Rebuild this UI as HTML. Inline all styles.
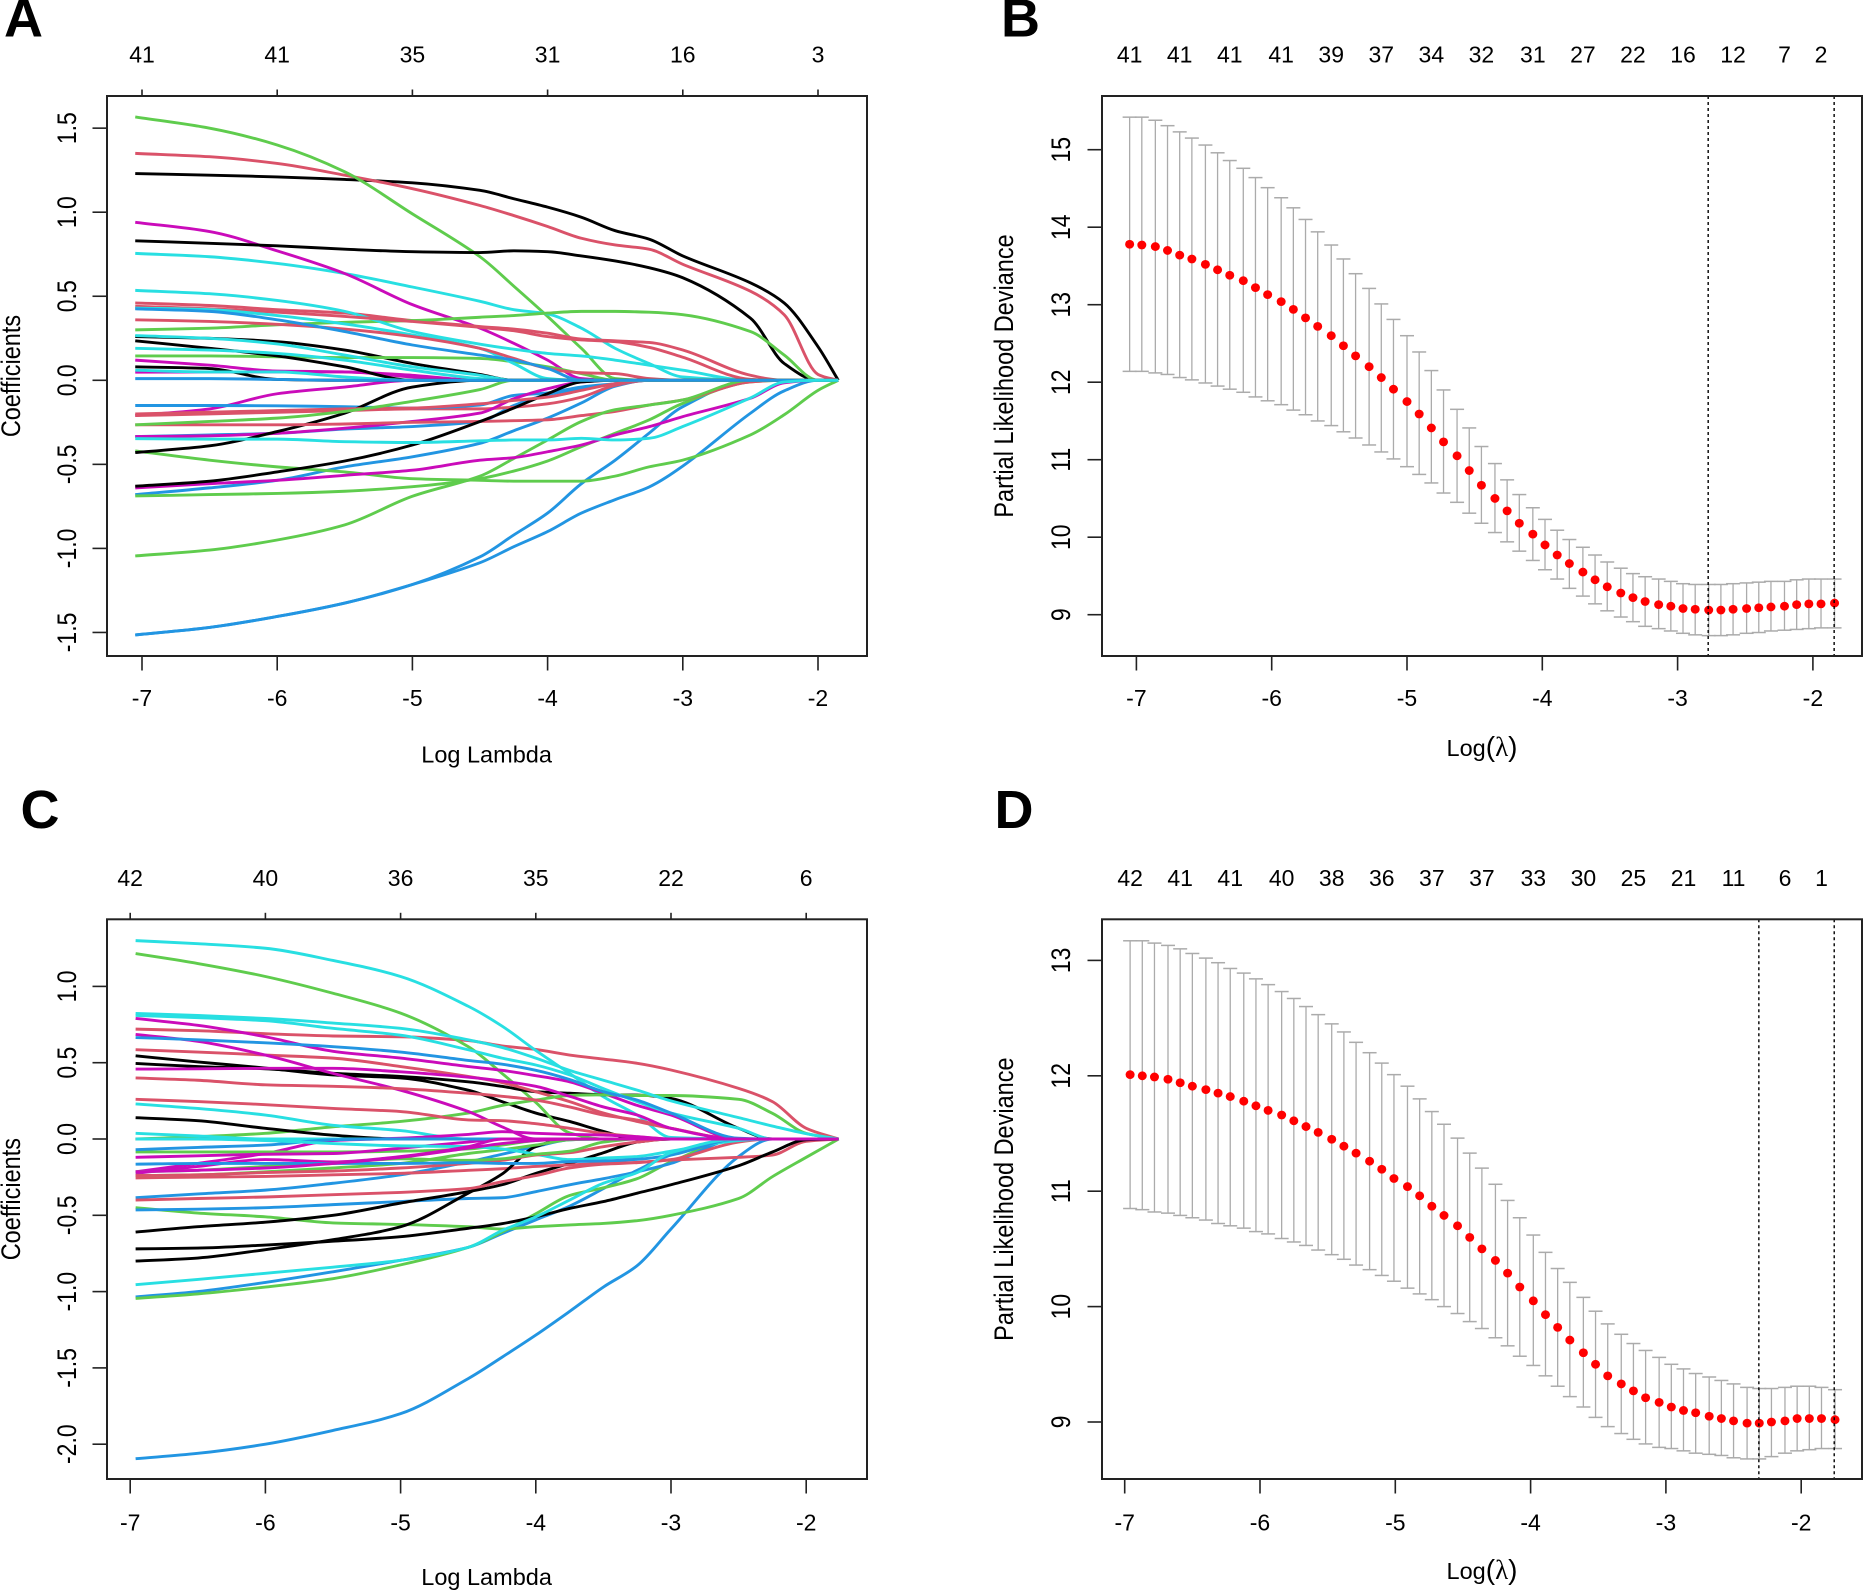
<!DOCTYPE html>
<html lang="en">
<head>
<meta charset="utf-8">
<title>LASSO coefficient paths and cross-validation deviance</title>
<style>
html,body{margin:0;padding:0;background:#fff;}
svg{display:block;}
text{font-family:"Liberation Sans",Arial,sans-serif;fill:#000;}
.panel-letter{font-weight:bold;font-size:54px;}
</style>
</head>
<body>
<svg id="figure" width="1863" height="1592" viewBox="0 0 1863 1592" xmlns="http://www.w3.org/2000/svg">
  <rect x="0" y="0" width="1863" height="1592" fill="#fff"/>
  <text class="panel-letter" x="4" y="36.5">A</text>
  <text class="panel-letter" x="1001" y="36.5">B</text>
  <text class="panel-letter" x="20.5" y="828">C</text>
  <text class="panel-letter" x="994.5" y="828">D</text>
</svg>
<script>
/* ---------- shared tick data ---------- */
const xTickValues = [-7, -6, -5, -4, -3, -2];
const yTickLabelsA = ['-1.5', '-1.0', '-0.5', '0.0', '0.5', '1.0', '1.5'];
const yTickLabelsC = ['-2.0', '-1.5', '-1.0', '-0.5', '0.0', '0.5', '1.0'];
const yTickLabelsB = ['9', '10', '11', '12', '13', '14', '15'];
const yTickLabelsD = ['9', '10', '11', '12', '13'];
const topCountsA = [41, 41, 35, 31, 16, 3];
const topCountsC = [42, 40, 36, 35, 22, 6];
const topCountsB = [41, 41, 41, 41, 39, 37, 34, 32, 31, 27, 22, 16, 12, 7, 2];
const topCountsD = [42, 41, 41, 40, 38, 36, 37, 37, 33, 30, 25, 21, 11, 6, 1];
const topCountIndex = [0, 4, 8, 12, 16, 20, 24, 28, 32, 36, 40, 44, 48, 52, 55];

/* ---------- panel A: coefficient paths. Values are 0 after the last listed knot. ---------- */
const coefLambdaA = [-7.05, -6.5, -6, -5.5, -5, -4.5, -4.25, -4, -3.75, -3.5, -3.25, -3, -2.5, -2.25, -2, -1.85];
const coefA = [
  [1.23,1.22,1.21,1.195,1.175,1.13,1.08,1.03,.97,.89,.84,.74,.58,.46,.20,0],
  [1.35,1.33,1.29,1.22,1.14,1.04,.98,.915,.845,.805,.78,.69,.53,.39,.035,0],
  [1.567,1.50,1.40,1.24,.99,.735,.56,.38,.19,.01],
  [-1.515,-1.47,-1.405,-1.325,-1.215,-1.05,-.92,-.79,-.615,-.475,-.315,-.157],
  [.755,.735,.695,.635,.555,.47,.42,.395,.31,.19,.10,.02],
  [.94,.885,.77,.635,.45,.31,.22,.12,.01],
  [.83,.815,.80,.78,.765,.76,.77,.765,.74,.71,.67,.61,.37,.10],
  [.46,.445,.42,.40,.355,.32,.305,.28,.245,.235,.225,.18,.03],
  [.30,.31,.33,.345,.355,.375,.385,.40,.41,.41,.405,.39,.29,.15,0],
  [-1.515,-1.47,-1.405,-1.325,-1.215,-1.085,-.99,-.90,-.79,-.71,-.635,-.51,-.196,-.063],
  [.535,.515,.475,.41,.29,.215,.185,.16,.145,.12,.09,.06],
  [.12,.09,.055,.05,.03],
  [.26,.25,.23,.18,.10,.035],
  [.44,.425,.405,.38,.35,.315,.295,.26,.24,.23,.196,.137,.006],
  [.145,.145,.14,.135,.135,.13,.11,.08,.04,0],
  [-.68,-.64,-.595,-.515,-.455,-.375,-.30,-.225,-.135,-.035],
  [.43,.42,.385,.335,.27,.19,.10,.01],
  [.048,.05,.05,.05,.02],
  [.235,.19,.145,.08],
  [.36,.35,.333,.305,.26,.19,.13,.07,.045,.04,.01],
  [-.688,-.68,-.673,-.66,-.633,-.585,-.54,-.48,-.395,-.315,-.236,-.137,-.01],
  [-.335,-.325,-.315,-.29,-.275,-.245,-.15,-.085,-.05,-.02],
  [.266,.25,.216,.15,.08,.03],
  [-.21,-.17,-.08,-.04],
  [.08,.07,.005],
  [-.21,-.20,-.19,-.18,-.17,-.17,-.16,-.14,-.10,-.03],
  [-.42,-.475,-.515,-.545,-.585,-.595,-.60,-.60,-.60,-.57,-.515,-.475,-.325,-.205,-.06],
  [-.15,-.15,-.152,-.157,-.165,-.147,-.09,-.075,-.04,-.02],
  [.19,.18,.16,.12,.06,.01],
  [-.335,-.33,-.315,-.285,-.245,-.195,-.11,-.05,-.01],
  [-.43,-.39,-.305,-.195,-.04],
  [-.265,-.265,-.265,-.26,-.25,-.245,-.24,-.235,-.21,-.185,-.147,-.117,-.01],
  [-1.045,-1.01,-.95,-.86,-.69,-.57,-.465,-.355,-.245,-.175,-.147,-.117],
  [.425,.41,.36,.29,.21,.15,.12,.07],
  [.06,.05,.05,.02],
  [-.64,-.615,-.595,-.565,-.535,-.475,-.46,-.425,-.385,-.325,-.276,-.216,-.107,-.015],
  [-.63,-.60,-.545,-.48,-.385,-.245,-.165,-.08,-.01],
  [-.20,-.19,-.18,-.17,-.165,-.14,-.12,-.10,-.06,-.02],
  [-.265,-.245,-.225,-.185,-.125,-.055],
  [.01,.01,.005],
  [-.347,-.35,-.35,-.365,-.37,-.36,-.355,-.355,-.345,-.355,-.345,-.275,-.105,-.01]
];

/* ---------- panel C: coefficient paths. Values are 0 after the last listed knot. ---------- */
const coefLambdaC = [-6.96, -6.5, -6, -5.5, -5, -4.5, -4.25, -4, -3.75, -3.5, -3.25, -3, -2.5, -2.25, -2, -1.76];
const coefC = [
  [.545,.505,.465,.42,.40,.32,.245,.17,.115,.05],
  [.72,.71,.69,.675,.67,.645,.61,.587,.55,.524,.496,.452,.332,.245,.07,0],
  [1.215,1.15,1.065,.955,.825,.605,.43,.24,.04],
  [-2.095,-2.06,-2.0,-1.91,-1.80,-1.57,-1.43,-1.285,-1.13,-.97,-.83,-.59,-.115],
  [1.30,1.28,1.25,1.17,1.065,.87,.74,.58,.43,.277,.157,.01],
  [.79,.745,.67,.575,.53,.475,.45,.415,.375,.30,.22,.157],
  [.495,.475,.46,.43,.41,.375,.345,.31,.30,.29,.288,.266,.07],
  [.585,.57,.55,.53,.475,.41,.37,.31,.245,.17,.115,.07],
  [.0,.015,.037,.08,.115,.17,.22,.255,.285,.29,.285,.285,.26,.168,.037,0],
  [-1.035,-1.0,-.94,-.87,-.795,-.71,-.62,-.53,-.44,-.325,-.205,-.105],
  [.823,.81,.79,.76,.725,.65,.60,.53,.45,.385,.32,.25,.14,.085,.035,0],
  [.685,.64,.55,.43,.32,.18,.08],
  [.14,.12,.07,.025],
  [.40,.385,.355,.345,.33,.30,.28,.255,.21,.157,.124,.07],
  [-.45,-.485,-.51,-.55,-.56,-.575,-.59,-.575,-.563,-.553,-.535,-.50,-.39,-.247,-.12,0],
  [-.385,-.36,-.335,-.29,-.235,-.15,-.10,-.05,-.005],
  [.81,.795,.775,.725,.68,.585,.53,.485,.42,.33,.245,.17,.07],
  [.458,.46,.463,.463,.44,.405,.38,.345,.28,.21,.157,.07],
  [0,0,0,0,0],
  [.26,.245,.225,.20,.18,.125,.12,.10,.07,.037,.015],
  [-1.045,-1.015,-.97,-.915,-.825,-.71,-.61,-.49,-.37,-.32,-.26,-.15],
  [-.465,-.46,-.45,-.43,-.41,-.39,-.385,-.345,-.30,-.26,-.215,-.16],
  [.23,.20,.157,.09,.055],
  [-.215,-.16,-.095,-.01,.005,.03,.048,.037,.03,.026,.015],
  [-.61,-.575,-.545,-.50,-.42,-.345,-.30,-.225,-.16,-.09,-.02],
  [-.255,-.25,-.245,-.235,-.225,-.205,-.195,-.18,-.17,-.16,-.153,-.138,-.12,-.105,-.015,0],
  [-.085,-.085,-.085,-.085,-.08,-.065,-.04,-.01],
  [.665,.65,.63,.605,.57,.515,.49,.45,.39,.31,.255,.17,.005],
  [.037,.02],
  [-.12,-.11,-.10,-.095,-.06,-.02],
  [-.80,-.78,-.725,-.66,-.575,-.355,-.23,-.05],
  [-.40,-.39,-.38,-.365,-.35,-.325,-.28,-.24,-.19,-.165,-.155,-.135,-.02],
  [-.24,-.235,-.215,-.19,-.16,-.095,-.07,-.04,-.005],
  [-.07,-.055,-.04,-.005],
  [0,0,-.01,-.03,-.045,-.05,-.065,-.10,-.135,-.125,-.115,-.08,-.01],
  [-.225,-.18,-.135,-.15,-.115,-.05],
  [-.72,-.715,-.695,-.67,-.64,-.585,-.555,-.51,-.455,-.41,-.355,-.30,-.175,-.085,-.005,0],
  [-.24,-.235,-.22,-.21,-.19,-.16,-.14,-.105,-.09,-.05,-.02],
  [-.215,-.205,-.18,-.16,-.13,-.14,-.13,-.10,-.08,-.02],
  [-.165,-.16,-.16,-.16,-.16,-.155,-.16,-.16,-.148,-.144,-.133,-.105],
  [-.955,-.92,-.88,-.84,-.795,-.71,-.60,-.51,-.40,-.29,-.22,-.09],
  [-.215,-.205,-.19,-.16,-.12,-.06,-.03,-.01]
];

/* ---------- panel B: cross-validation curve ---------- */
const lambdaB = [-7.05,-6.96,-6.86,-6.77,-6.68,-6.59,-6.49,-6.40,-6.31,-6.21,-6.12,-6.03,-5.93,-5.84,-5.75,-5.66,-5.56,-5.47,-5.38,-5.28,-5.19,-5.10,-5.00,-4.91,-4.82,-4.73,-4.63,-4.54,-4.45,-4.35,-4.26,-4.17,-4.07,-3.98,-3.89,-3.80,-3.70,-3.61,-3.52,-3.42,-3.33,-3.24,-3.14,-3.05,-2.96,-2.87,-2.77,-2.68,-2.59,-2.49,-2.40,-2.31,-2.21,-2.12,-2.03,-1.94,-1.84];
const meanB = [13.78,13.77,13.75,13.70,13.64,13.59,13.52,13.45,13.38,13.31,13.22,13.13,13.04,12.94,12.83,12.72,12.60,12.47,12.34,12.20,12.06,11.91,11.75,11.59,11.41,11.23,11.05,10.86,10.67,10.50,10.34,10.18,10.04,9.90,9.77,9.66,9.55,9.45,9.36,9.28,9.22,9.17,9.13,9.11,9.08,9.07,9.06,9.06,9.07,9.08,9.09,9.10,9.11,9.13,9.14,9.14,9.15];
const upperB = [15.42,15.42,15.38,15.31,15.23,15.15,15.06,14.96,14.86,14.76,14.64,14.51,14.38,14.25,14.10,13.94,13.77,13.59,13.40,13.21,13.01,12.81,12.60,12.39,12.15,11.90,11.65,11.41,11.17,10.95,10.74,10.55,10.38,10.23,10.09,9.97,9.87,9.77,9.68,9.60,9.53,9.49,9.46,9.43,9.40,9.39,9.39,9.39,9.40,9.41,9.42,9.43,9.43,9.45,9.46,9.46,9.46];
const lowerB = [12.14,12.14,12.12,12.10,12.06,12.03,11.99,11.95,11.91,11.87,11.81,11.76,11.71,11.64,11.58,11.50,11.44,11.36,11.28,11.19,11.10,11.01,10.91,10.81,10.70,10.57,10.45,10.31,10.18,10.06,9.94,9.82,9.70,9.58,9.46,9.34,9.24,9.14,9.05,8.97,8.91,8.85,8.82,8.79,8.76,8.74,8.73,8.73,8.74,8.76,8.77,8.79,8.80,8.81,8.82,8.83,8.83];
const cutoffsB = [-2.774, -1.843];

/* ---------- panel D: cross-validation curve ---------- */
const lambdaD = [-6.96,-6.87,-6.78,-6.68,-6.59,-6.50,-6.40,-6.31,-6.22,-6.12,-6.03,-5.94,-5.84,-5.75,-5.66,-5.57,-5.47,-5.38,-5.29,-5.19,-5.10,-5.01,-4.91,-4.82,-4.73,-4.64,-4.54,-4.45,-4.36,-4.26,-4.17,-4.08,-3.98,-3.89,-3.80,-3.71,-3.61,-3.52,-3.43,-3.33,-3.24,-3.15,-3.05,-2.96,-2.87,-2.78,-2.68,-2.59,-2.50,-2.40,-2.31,-2.22,-2.12,-2.03,-1.94,-1.85,-1.75];
const meanD = [12.01,12.00,11.99,11.97,11.94,11.91,11.88,11.85,11.82,11.78,11.74,11.70,11.66,11.61,11.56,11.51,11.45,11.39,11.33,11.26,11.19,11.11,11.04,10.96,10.87,10.79,10.70,10.60,10.50,10.40,10.29,10.17,10.05,9.93,9.82,9.71,9.60,9.50,9.40,9.33,9.27,9.21,9.17,9.13,9.10,9.08,9.05,9.03,9.01,8.99,8.99,9.00,9.01,9.03,9.03,9.03,9.02];
const upperD = [13.17,13.17,13.15,13.13,13.10,13.06,13.02,12.98,12.93,12.89,12.84,12.79,12.73,12.67,12.60,12.53,12.45,12.38,12.29,12.20,12.11,12.01,11.91,11.80,11.69,11.58,11.46,11.33,11.20,11.06,10.92,10.77,10.62,10.47,10.33,10.21,10.08,9.96,9.85,9.76,9.68,9.62,9.56,9.50,9.46,9.42,9.39,9.36,9.33,9.30,9.29,9.29,9.30,9.31,9.31,9.30,9.28];
const lowerD = [10.85,10.84,10.82,10.81,10.79,10.77,10.75,10.72,10.70,10.68,10.65,10.63,10.59,10.56,10.53,10.49,10.45,10.41,10.36,10.32,10.27,10.22,10.16,10.11,10.06,10.00,9.94,9.87,9.81,9.73,9.66,9.57,9.49,9.40,9.31,9.22,9.13,9.04,8.96,8.90,8.85,8.81,8.78,8.77,8.75,8.73,8.72,8.71,8.69,8.68,8.68,8.70,8.73,8.75,8.76,8.77,8.77];
const cutoffsD = [-2.313, -1.756];

/* ---------- axis functions ---------- */
const xA = v => 818 + (v + 2) * 135.2;
const yA = v => 380.3 - v * 168.1;
const xC = v => 806.2 + (v + 2) * 135.2;
const yC = v => 1139 - v * 152.6;
const xB = v => 1812.9 + (v + 2) * 135.3;
const yB = v => 614.7 - (v - 9) * 77.5;
const xD = v => 1801.2 + (v + 2) * 135.3;
const yD = v => 1422 - (v - 9) * 115.4;

const palette = ['#000000', '#DA5269', '#5FCC4D', '#2295E2', '#28DFE2', '#CA0BBA'];
const NS = 'http://www.w3.org/2000/svg';
const root = document.getElementById('figure');

function mk(tag, attrs, parent) {
  const el = document.createElementNS(NS, tag);
  for (const k in attrs) el.setAttribute(k, attrs[k]);
  parent.appendChild(el);
  return el;
}

function monotonePath(xs, ys) {
  const n = xs.length, s = [], m = [];
  for (let i = 0; i < n - 1; i++) s.push((ys[i + 1] - ys[i]) / (xs[i + 1] - xs[i]));
  m[0] = s[0];
  m[n - 1] = s[n - 2];
  for (let i = 1; i < n - 1; i++) {
    if (s[i - 1] * s[i] <= 0) { m[i] = 0; continue; }
    const h0 = xs[i] - xs[i - 1], h1 = xs[i + 1] - xs[i];
    m[i] = (h0 + h1) * 3 * s[i - 1] * s[i] / ((2 * h1 + h0) * s[i - 1] + (h1 + 2 * h0) * s[i]);
  }
  let d = 'M' + xs[0].toFixed(2) + ' ' + ys[0].toFixed(2);
  for (let i = 0; i < n - 1; i++) {
    const h = (xs[i + 1] - xs[i]) / 3;
    d += 'C' + (xs[i] + h).toFixed(2) + ' ' + (ys[i] + m[i] * h).toFixed(2) + ' ' +
         (xs[i + 1] - h).toFixed(2) + ' ' + (ys[i + 1] - m[i + 1] * h).toFixed(2) + ' ' +
         xs[i + 1].toFixed(2) + ' ' + ys[i + 1].toFixed(2);
  }
  return d;
}

function drawFrame(g, box) {
  const rect = mk('rect', {x: box.l, y: box.t, width: box.r - box.l, height: box.b - box.t, fill: 'none', stroke: '#222', 'stroke-width': 2}, g);
  
  
}

function drawXAxis(g, box, x, labelBaseline) {
  xTickValues.forEach(v => {
    const tick = mk('line', {x1: x(v), x2: x(v), y1: box.b, y2: box.b + 14.5, stroke: '#222', 'stroke-width': 1.6}, g);
    
    
    const label = mk('text', {x: x(v), y: labelBaseline, 'text-anchor': 'middle', 'font-size': 23}, g);
    label.textContent = String(v);
    
    
  });
}

function drawYAxis(g, box, y, labels, baselineX) {
  labels.forEach(txt => {
    const v = parseFloat(txt);
    const tick = mk('line', {x1: box.l - 14.5, x2: box.l, y1: y(v), y2: y(v), stroke: '#222', 'stroke-width': 1.6}, g);
    
    
    const label = mk('text', {transform: 'translate(' + baselineX + ',' + y(v) + ') rotate(-90) scale(1,1.18)', 'text-anchor': 'middle', 'font-size': 23}, g);
    label.textContent = txt;
    
    
  });
}

function drawYTitle(g, txt, baselineX, cy, fontSize) {
  const t = mk('text', {transform: 'translate(' + baselineX + ',' + cy + ') rotate(-90) scale(1,1.13)', 'text-anchor': 'middle', 'font-size': fontSize}, g);
  t.textContent = txt;
  
  
}

function drawCoefPanel(name, box, x, y, lambda, coef, yLabels, counts, topBaseline, xLabelBaseline, titleBaseline) {
  const g = mk('g', {}, root);
  
  
  const px = lambda.map(x);
  coef.forEach((series, i) => {
    const py = lambda.map((_, j) => y(series[j] === undefined ? 0 : series[j]));
    const p = mk('path', {d: monotonePath(px, py), fill: 'none', stroke: palette[i % 6], 'stroke-width': 2.9, 'stroke-linejoin': 'round'}, g);
    
    
  });
  drawFrame(g, box);
  drawXAxis(g, box, x, xLabelBaseline);
  drawYAxis(g, box, y, yLabels, 76);
  xTickValues.forEach((v, i) => {
    const tick = mk('line', {x1: x(v), x2: x(v), y1: box.t - 6.5, y2: box.t, stroke: '#222', 'stroke-width': 1.6}, g);
    
    
    const label = mk('text', {x: x(v), y: topBaseline, 'text-anchor': 'middle', 'font-size': 23}, g);
    label.textContent = String(counts[i]);
    
    
  });
  const xt = mk('text', {x: 486.6, y: titleBaseline, 'text-anchor': 'middle', 'font-size': 23.5}, g);
  xt.textContent = 'Log Lambda';
  
  
  drawYTitle(g, 'Coefficients', 20, (box.t + box.b) / 2, 23.5);
}

function drawCvPanel(name, box, x, y, lambda, mean, upper, lower, cutoffs, yLabels, counts, topBaseline, xLabelBaseline, titleBaseline) {
  const g = mk('g', {}, root);
  
  
  lambda.forEach((l, i) => {
    const cx = x(l);
    const stem = mk('line', {x1: cx, x2: cx, y1: y(upper[i]), y2: y(lower[i]), stroke: '#ABABAB', 'stroke-width': 1.3}, g);
    
    
    const capU = mk('line', {x1: cx - 7, x2: cx + 7, y1: y(upper[i]), y2: y(upper[i]), stroke: '#ABABAB', 'stroke-width': 1.5}, g);
    
    
    const capL = mk('line', {x1: cx - 7, x2: cx + 7, y1: y(lower[i]), y2: y(lower[i]), stroke: '#ABABAB', 'stroke-width': 1.5}, g);
    
    
  });
  lambda.forEach((l, i) => {
    const dot = mk('ellipse', {cx: x(l), cy: y(mean[i]), rx: 4.5, ry: 4.4, fill: '#FF0000'}, g);
    
    
  });
  cutoffs.forEach(c => {
    const v = mk('line', {x1: x(c), x2: x(c), y1: box.t, y2: box.b, stroke: '#000', 'stroke-width': 1.4, 'stroke-dasharray': '3 3'}, g);
    
    
  });
  drawFrame(g, box);
  drawXAxis(g, box, x, xLabelBaseline);
  drawYAxis(g, box, y, yLabels, 1070);
  counts.forEach((c, i) => {
    const label = mk('text', {x: x(lambda[topCountIndex[i]]), y: topBaseline, 'text-anchor': 'middle', 'font-size': 23}, g);
    label.textContent = String(c);
    
    
  });
  const xt = mk('text', {x: 1482, y: titleBaseline, 'text-anchor': 'middle', 'font-size': 23.5}, g);
  
  
  xt.appendChild(document.createTextNode('Log'));
  const paren1 = mk('tspan', {'font-size': 28}, xt);
  paren1.textContent = '(';
  
  
  const sym = mk('tspan', {'font-size': 27, style: 'font-family:"Liberation Serif",serif'}, xt);
  sym.textContent = 'λ';
  
  
  const paren2 = mk('tspan', {'font-size': 28}, xt);
  paren2.textContent = ')';
  
  
  drawYTitle(g, 'Partial Likelihood Deviance', 1013, (box.t + box.b) / 2, 23.5);
}

drawCoefPanel('panel-a-coefficient-paths', {l: 107, r: 867, t: 96, b: 656}, xA, yA, coefLambdaA, coefA, yTickLabelsA, topCountsA, 62.5, 706, 762.5);
drawCoefPanel('panel-c-coefficient-paths', {l: 107, r: 867, t: 919.3, b: 1479}, xC, yC, coefLambdaC, coefC, yTickLabelsC, topCountsC, 886, 1530.5, 1585);
drawCvPanel('panel-b-cv-deviance', {l: 1102, r: 1862, t: 96, b: 656}, xB, yB, lambdaB, meanB, upperB, lowerB, cutoffsB, yTickLabelsB, topCountsB, 62.5, 706, 756);
drawCvPanel('panel-d-cv-deviance', {l: 1102, r: 1862, t: 919.3, b: 1479}, xD, yD, lambdaD, meanD, upperD, lowerD, cutoffsD, yTickLabelsD, topCountsD, 886, 1530.5, 1579);
</script>
</body>
</html>
